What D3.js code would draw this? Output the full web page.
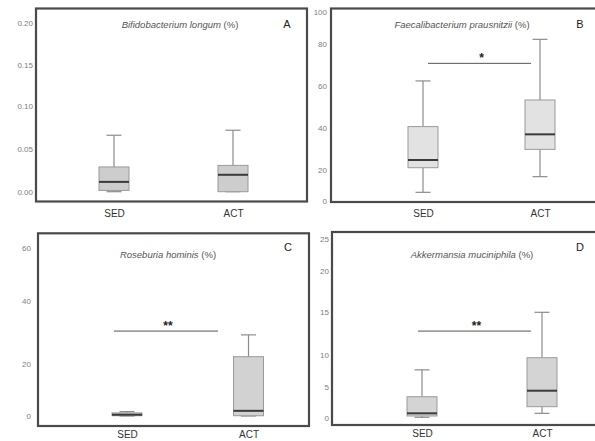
<!DOCTYPE html>
<html>
<head>
<meta charset="utf-8">
<script src="https://cdn.jsdelivr.net/npm/d3@7"></script>
<style>
  html, body { margin: 0; padding: 0; background: #fff; }
  svg { display: block; font-family: "Liberation Sans", Arial, sans-serif; }
</style>
</head>
<body>
<svg id="chart" width="595" height="441"></svg>
<script>
// ---------------- DATA ----------------
const groups = ["SED", "ACT"];
const panelLetters = ["A", "B", "C", "D"];
const species = ["Bifidobacterium longum", "Faecalibacterium prausnitzii", "Roseburia hominis", "Akkermansia muciniphila"];

const ticksA = [0, 0.05, 0.10, 0.15, 0.20];
const ticksB = [0, 20, 40, 60, 80, 100];
const ticksC = [0, 20, 40, 60];
const ticksD = [0, 5, 10, 15, 20, 25];
const tickLabelsA = ["0.00", "0.05", "0.10", "0.15", "0.20"];
const tickLabelsB = ["0", "20", "40", "60", "80", "100"];
const tickLabelsC = ["0", "20", "40", "60"];
const tickLabelsD = ["0", "5", "10", "15", "20", "25"];

// five-number summaries: [min, q1, median, q3, max]
const bifidoSED = [0.000, 0.0015, 0.0115, 0.029, 0.066];
const bifidoACT = [0.000, 0.000, 0.0198, 0.0308, 0.0718];
const faecaliSED = [5.6, 21.1, 24.8, 40.8, 62.3];
const faecaliACT = [15.7, 29.9, 37.1, 53.3, 83.1];
const roseSED = [0.0, 0.1, 0.5, 1.2, 1.7];
const roseACT = [0.0, 0.1, 2.0, 22.4, 29.3];
const akkerSED = [0.07, 0.28, 0.72, 3.45, 7.7];
const akkerACT = [0.72, 1.81, 4.44, 9.58, 15.0];

const sigMarks = ["", "*", "**", "**"];
const sigLevel = [null, 70.8, 30.5, 12.8];

// ---------------- LAYOUT ----------------
const panelTicks = [ticksA, ticksB, ticksC, ticksD];
const panelTickLabels = [tickLabelsA, tickLabelsB, tickLabelsC, tickLabelsD];
const panelStats = [[bifidoSED, bifidoACT], [faecaliSED, faecaliACT], [roseSED, roseACT], [akkerSED, akkerACT]];

const layout = [
  { frame: [36, 8.5, 307, 201.5], xs: [114, 233], tickY: [191.7, 149, 106, 65, 22.7], tickX: 33,
    title: [180, 28], letter: [287, 27.5], fill: "#cdcdcd", span: null, pad: 8 },
  { frame: [331, 8.5, 600, 202], xs: [423, 540], tickY: [201, 170, 128.3, 85.7, 44.3, 12.3], tickX: 327,
    title: [462, 28], letter: [580, 27.5], fill: "#e2e2e2", span: [0.043, 0.923], pad: 8 },
  { frame: [38, 233.3, 309, 426], xs: [127, 248.5], tickY: [416, 364.3, 301, 247.7], tickX: 31,
    title: [168, 257.5], letter: [288, 251], fill: "#d2d2d2", span: [-0.107, 0.749], pad: 5 },
  { frame: [332, 232, 600, 425], xs: [422, 542], tickY: [417.7, 387.3, 355, 312.3, 270.7, 239], tickX: 329,
    title: [472, 258], letter: [580, 251], fill: "#d4d4d4", span: [-0.033, 0.908], pad: 5 }
];

const svg = d3.select("#chart");
const boxW = 30, capW = 15;

layout.forEach((L, i) => {
  const g = svg.append("g");
  const y = d3.scaleLinear().domain(panelTicks[i]).range(L.tickY);
  const x = d3.scalePoint().domain(groups).range(L.xs);
  const [fx0, fy0, fx1, fy1] = L.frame;

  // y axis labels
  const yAxis = d3.axisLeft(y).tickValues(panelTicks[i])
    .tickFormat((d, k) => panelTickLabels[i][k]).tickSize(0).tickPadding(0);
  const ya = g.append("g").attr("transform", `translate(${L.tickX},0)`).call(yAxis);
  ya.select(".domain").remove();
  ya.selectAll("text").attr("fill", "#7e7e7e").style("font-size", "8px")
    .style("font-family", "'Liberation Sans', Arial, sans-serif");

  // x axis labels
  const xAxis = d3.axisBottom(x).tickSize(0).tickPadding(L.pad);
  const xa = g.append("g").attr("transform", `translate(0,${fy1})`).call(xAxis);
  xa.select(".domain").remove();
  xa.selectAll("text").attr("fill", "#333").style("font-size", "10px")
    .style("font-family", "'Liberation Sans', Arial, sans-serif");

  // boxes
  groups.forEach((grp, j) => {
    const s = panelStats[i][j];
    const cx = x(grp);
    const bg = g.append("g");
    bg.append("line").attr("x1", cx).attr("x2", cx).attr("y1", y(s[3])).attr("y2", y(s[4]))
      .attr("stroke", "#8c8c8c").attr("stroke-width", 1.2);
    bg.append("line").attr("x1", cx).attr("x2", cx).attr("y1", y(s[1])).attr("y2", y(s[0]))
      .attr("stroke", "#8c8c8c").attr("stroke-width", 1.2);
    [s[0], s[4]].forEach(v => {
      bg.append("line").attr("x1", cx - capW / 2).attr("x2", cx + capW / 2)
        .attr("y1", y(v)).attr("y2", y(v)).attr("stroke", "#8c8c8c").attr("stroke-width", 1.2);
    });
    bg.append("rect").attr("x", cx - boxW / 2).attr("width", boxW)
      .attr("y", y(s[3])).attr("height", Math.max(1, y(s[1]) - y(s[3])))
      .attr("fill", L.fill).attr("stroke", "#9a9a9a").attr("stroke-width", 1);
    bg.append("line").attr("x1", cx - boxW / 2).attr("x2", cx + boxW / 2)
      .attr("y1", y(s[2])).attr("y2", y(s[2])).attr("stroke", "#3a3a3a").attr("stroke-width", 2);
  });

  // significance bar
  if (L.span) {
    const t = d3.scaleLinear().domain([0, 1]).range(L.xs);
    const sx0 = t(L.span[0]), sx1 = t(L.span[1]);
    const sy = y(sigLevel[i]);
    g.append("line").attr("x1", sx0).attr("x2", sx1).attr("y1", sy).attr("y2", sy)
      .attr("stroke", "#555").attr("stroke-width", 1);
    g.append("text").attr("x", (sx0 + sx1) / 2 + 2).attr("y", sy - 1)
      .attr("text-anchor", "middle").attr("fill", "#222")
      .style("font-size", "12px").style("font-weight", "bold").text(sigMarks[i]);
  }

  // frame
  g.append("rect").attr("x", fx0).attr("y", fy0).attr("width", fx1 - fx0).attr("height", fy1 - fy0)
    .attr("fill", "none").attr("stroke", "#4a4a4a").attr("stroke-width", 2.2);

  // title
  const tt = g.append("text").attr("x", L.title[0]).attr("y", L.title[1])
    .attr("text-anchor", "middle").attr("fill", "#555").style("font-size", "9.5px");
  tt.append("tspan").style("font-style", "italic").text(species[i]);
  tt.append("tspan").text(" (%)");

  // panel letter
  g.append("text").attr("x", L.letter[0]).attr("y", L.letter[1]).attr("text-anchor", "middle")
    .attr("fill", "#222").style("font-size", "11px").text(panelLetters[i]);
});
</script>
</body>
</html>
